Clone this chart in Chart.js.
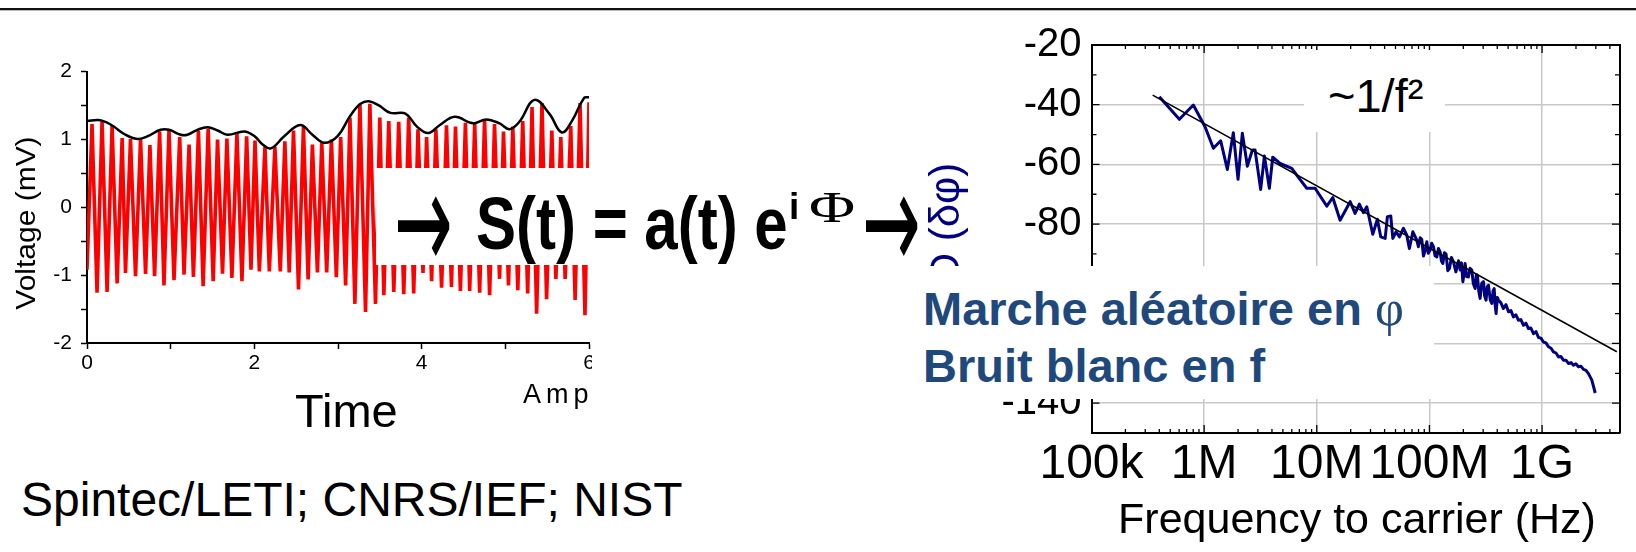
<!DOCTYPE html>
<html>
<head>
<meta charset="utf-8">
<script src="https://cdn.jsdelivr.net/npm/chart.js@4.4.0/dist/chart.umd.min.js"></script>
<style>
  body { margin: 0; background: #fff; }
  #page { position: relative; width: 1636px; height: 552px; overflow: hidden; background: #fff;
          font-family: "Liberation Sans", Arial, sans-serif; color: #000; }
  .abs { position: absolute; white-space: nowrap; }
  #topRule { left: 0; top: 8px; width: 1636px; height: 2px; background: #111; border-bottom: 1px solid #bbb; }
  #leftWrap { left: 0; top: 0; width: 592px; height: 552px; overflow: hidden; }
  #timeChart { position: absolute; left: 0; top: 50px; }
  #vLabel { left: -74px; top: 207px; width: 200px; height: 32px; line-height: 32px; font-size: 27px;
            text-align: center; transform: rotate(-90deg) scaleX(1.11); }
  #ampLabel { left: 523px; top: 381px; font-size: 27px; line-height: 27px; letter-spacing: 5px; }
  #timeLabel { left: 295px; top: 387px; font-size: 47px; line-height: 47px; }
  #formulaBox { left: 376px; top: 168px; width: 216px; height: 97px; background: #fff; }
  .f { position: absolute; white-space: nowrap; font-weight: bold; font-size: 60px; line-height: 60px;
       top: 199px; transform-origin: 0 51px; transform: scaleY(1.25); }
  .arr { position: absolute; font-family: "DejaVu Sans", sans-serif; font-weight: normal; font-size: 70px;
         line-height: 70px; top: 211px; transform-origin: 0 59px; transform: scaleY(2.0); }
  .sup { position: absolute; white-space: nowrap; line-height: 40px; top: 187px; }
  #psdChart { position: absolute; left: 900px; top: 0; }
  #psdLabel { left: 835px; top: 229px; width: 220px; height: 44px; line-height: 44px; font-size: 42px;
              color: #000080; text-align: center; transform: rotate(-90deg); }
  #slopeBox { left: 1304px; top: 50px; width: 141px; height: 82px; background: #fff; }
  #slopeText { left: 1328px; top: 72px; font-size: 47px; line-height: 47px; }
  #noteBox { left: 880px; top: 266px; width: 554px; height: 133px; background: #fff; }
  #noteText { left: 923px; top: 280px; font-size: 47px; line-height: 57px; font-weight: bold; color: #1f497d; }
  #noteText .phi { font-family: "Liberation Serif", serif; font-weight: normal; font-size: 50px; }
  #freqLabel { left: 1057px; top: 497px; width: 600px; text-align: center; font-size: 43px; line-height: 43px; }
  #credits { left: 21px; top: 476px; font-size: 48px; line-height: 48px; }
</style>
</head>
<body>
<div id="page">
  <div id="topRule" class="abs"></div>
  <div id="leftWrap" class="abs">
    <canvas id="timeChart" width="620" height="330"></canvas>
    <div id="vLabel" class="abs">Voltage (mV)</div>
    <div id="ampLabel" class="abs">Amp</div>
  </div>
  <div id="timeLabel" class="abs">Time</div>

  <div id="formulaBox" class="abs"></div>
  <div class="arr" style="left:394px">→</div>
  <div class="f" style="left:476px">S(t) = a(t) e</div>
  <div class="sup" style="left:789px; font-weight:bold; font-size:37px;">i</div>
  <div class="sup" style="left:809px; font-family:'Liberation Serif', serif; font-size:45px; transform-origin:0 0; transform:scaleX(1.4);">Φ</div>
  <div class="arr" style="left:862px">→</div>

  <canvas id="psdChart" width="736" height="500"></canvas>
  <div id="psdLabel" class="abs">PSD (δφ)</div>
  <div id="slopeBox" class="abs"></div>
  <div id="slopeText" class="abs">~1/f²</div>
  <div id="noteBox" class="abs"></div>
  <div id="noteText" class="abs">Marche aléatoire en <span class="phi">φ</span><br>Bruit blanc en f</div>
  <div id="freqLabel" class="abs">Frequency to carrier (Hz)</div>
  <div id="credits" class="abs">Spintec/LETI; CNRS/IEF; NIST</div>
</div>

<script>
// time trace: turning points of the oscillation (time, mV)
const sigT = [0, 0.06, 0.12, 0.18, 0.24, 0.30, 0.36, 0.42, 0.46, 0.52,
  0.58, 0.64, 0.70, 0.752, 0.808, 0.868, 0.92, 0.98, 1.04, 1.108,
  1.16, 1.22, 1.272, 1.332, 1.388, 1.448, 1.508, 1.56, 1.62, 1.672,
  1.732, 1.792, 1.852, 1.908, 1.96, 2.008, 2.06, 2.127, 2.179, 2.246,
  2.31, 2.365, 2.417, 2.468, 2.528, 2.587, 2.643, 2.694, 2.754, 2.806,
  2.865, 2.921, 2.98, 3.032, 3.091, 3.143, 3.202, 3.262, 3.329, 3.381,
  3.448, 3.5, 3.548, 3.607, 3.667, 3.726, 3.786, 3.845, 3.905, 3.956,
  4.016, 4.059, 4.119, 4.17, 4.238, 4.297, 4.356, 4.404, 4.463, 4.523,
  4.574, 4.634, 4.693, 4.752, 4.812, 4.871, 4.931, 4.978, 5.038, 5.089,
  5.149, 5.208, 5.267, 5.319, 5.374, 5.438, 5.493, 5.556, 5.604, 5.663,
  5.715, 5.782, 5.834, 5.893, 5.952, 6.0];
const sigV = [-0.92, 1.228, -1.257, 1.271, -1.247, 1.204, -1.122, 1.022, -0.969, 1.007,
  -1.017, 1.007, -0.983, 0.916, -1.017, 1.118, -1.151, 1.132, -1.074, 1.036,
  -0.993, 0.926, -1.026, 1.127, -1.161, 1.156, -1.089, 0.998, -0.978, 1.012,
  -1.041, 1.094, -1.089, 1.046, -0.921, 0.983, -0.945, 0.892, -0.945, 0.892,
  -0.945, 0.974, -0.959, 1.132, -1.209, 1.189, -1.065, 0.926, -0.959, 0.95,
  -0.959, 0.998, -1.031, 1.036, -1.151, 1.324, -1.424, 1.525, -1.544, 1.525,
  -1.424, 1.324, -1.295, 1.271, -1.247, 1.261, -1.281, 1.324, -1.271, 1.151,
  -0.969, 1.036, -1.089, 1.151, -1.185, 1.209, -1.175, 1.189, -1.233, 1.247,
  -1.233, 1.228, -1.257, 1.295, -1.295, 1.228, -1.055, 1.118, -1.151, 1.189,
  -1.223, 1.271, -1.271, 1.477, -1.568, 1.535, -1.353, 1.132, -1.055, 1.036,
  -1.055, 1.199, -1.367, 1.535, -1.592, 1.549];

// amplitude envelope a(t)
const envT = [0, 0.14, 0.24, 0.32, 0.44, 0.6, 0.72, 0.88, 0.98, 1.12,
  1.2, 1.32, 1.44, 1.56, 1.68, 1.88, 2.0, 2.099, 2.198, 2.357,
  2.548, 2.694, 2.833, 2.992, 3.151, 3.27, 3.369, 3.488, 3.627, 3.806,
  3.944, 4.079, 4.218, 4.396, 4.614, 4.772, 4.931, 5.05, 5.168, 5.347,
  5.525, 5.675, 5.802, 5.941, 6.0];
const envV = [1.271, 1.285, 1.247, 1.19, 1.084, 1.007, 1.046, 1.142, 1.142, 1.07,
  1.07, 1.142, 1.18, 1.132, 1.07, 1.118, 1.05, 0.926, 0.868, 1.046,
  1.213, 1.07, 0.95, 1.046, 1.357, 1.525, 1.564, 1.501, 1.391, 1.381,
  1.189, 1.094, 1.213, 1.333, 1.237, 1.295, 1.237, 1.151, 1.261, 1.583,
  1.381, 1.103, 1.285, 1.612, 1.621];

// phase noise spectrum: log10(frequency / Hz) and dB
const psdLogF = [5.602, 5.78, 5.904, 6.008, 6.082, 6.147, 6.206, 6.259, 6.301, 6.339,
  6.384, 6.428, 6.452, 6.502, 6.535, 6.579, 6.609, 6.674, 6.778, 6.822,
  6.911, 6.985, 7.089, 7.142, 7.207, 7.296, 7.34, 7.378, 7.414, 7.444,
  7.497, 7.538, 7.568, 7.607, 7.627, 7.657, 7.675, 7.704, 7.734, 7.769,
  7.799, 7.822, 7.853, 7.888, 7.902, 7.918, 7.932, 7.947, 7.962, 7.977,
  7.99, 8.006, 8.02, 8.036, 8.05, 8.066, 8.08, 8.095, 8.107, 8.119,
  8.133, 8.148, 8.163, 8.178, 8.195, 8.213, 8.235, 8.258, 8.273, 8.285,
  8.297, 8.307, 8.317, 8.33, 8.346, 8.36, 8.376, 8.39, 8.406, 8.416,
  8.426, 8.438, 8.45, 8.465, 8.48, 8.49, 8.503, 8.513, 8.524, 8.54,
  8.554, 8.565, 8.575, 8.583, 8.592, 8.603, 8.613, 8.635, 8.657, 8.68,
  8.702, 8.724, 8.746, 8.768, 8.79, 8.812, 8.835, 8.857, 8.879, 8.9,
  8.924, 8.946, 8.968, 8.99, 9.012, 9.035, 9.057, 9.08, 9.101, 9.124,
  9.146, 9.168, 9.19, 9.212, 9.234, 9.257, 9.279, 9.3, 9.323, 9.345,
  9.368, 9.39, 9.412, 9.442, 9.472];
const psdDb = [-37.3, -44.9, -40.1, -47.4, -54.6, -52.1, -61.7, -49.4, -65.0, -49.6,
  -60.6, -55.2, -55.2, -68.4, -57.2, -68.0, -57.6, -59.7, -61.3, -63.6,
  -68.0, -68.0, -74.0, -71.1, -78.7, -72.5, -76.4, -73.3, -76.2, -74.2,
  -83.4, -78.4, -84.3, -84.8, -77.5, -77.3, -84.8, -82.6, -84.3, -81.4,
  -83.7, -88.2, -82.6, -85.4, -87.6, -84.6, -85.1, -90.7, -88.9, -85.9,
  -89.8, -88.7, -86.4, -87.6, -90.6, -91.0, -88.2, -89.3, -92.4, -93.2,
  -89.6, -90.1, -95.6, -94.9, -91.2, -92.6, -96.0, -92.3, -95.4, -93.0,
  -99.3, -96.6, -93.2, -97.6, -97.7, -94.8, -95.4, -100.0, -101.6, -97.0,
  -97.1, -102.4, -104.9, -99.8, -99.3, -104.0, -105.5, -101.0, -100.5, -105.4,
  -106.6, -102.4, -101.6, -107.0, -110.0, -104.6, -105.5, -106.4, -108.3, -107.0,
  -109.4, -109.0, -111.1, -110.4, -112.2, -112.0, -113.9, -113.2, -115.0, -114.8,
  -116.7, -116.0, -118.0, -118.2, -119.5, -119.8, -121.1, -121.6, -122.8, -123.2,
  -124.5, -124.4, -125.6, -125.6, -126.7, -126.4, -127.3, -126.8, -127.8, -127.6,
  -128.7, -129.0, -130.1, -132.3, -136.6];

// ~1/f^2 guide line
const fitLogF = [5.543, 9.664];
const fitDb = [-36.8, -122.8];

const freqTicks = [1e5, 1e6, 1e7, 1e8, 1e9];
const freqTickLabels = ['100k', '1M', '10M', '100M', '1G'];
const dbTicks = [-140, -120, -100, -80, -60, -40, -20];

Chart.defaults.font.family = '"Liberation Sans", Arial, sans-serif';
Chart.defaults.color = '#000';

// closes the frame and draws the inward ticks of the spectrum plot
const frameTicks = {
  id: 'frameTicks',
  afterDraw(chart) {
    const { ctx, chartArea: a, scales: { x, y } } = chart;
    ctx.save();
    ctx.strokeStyle = '#000';
    ctx.lineWidth = 2;
    ctx.beginPath();
    ctx.moveTo(a.left, a.top);
    ctx.lineTo(a.right, a.top);
    ctx.lineTo(a.right, a.bottom);
    ctx.stroke();
    ctx.lineWidth = 1.3;
    ctx.beginPath();
    for (const d of freqTicks) {
      for (let m = 1; m <= 9; m++) {
        const v = d * m;
        if (v <= x.min || v >= x.max) continue;
        const px = x.getPixelForValue(v);
        const len = m === 1 ? 8 : 4;
        ctx.moveTo(px, a.bottom); ctx.lineTo(px, a.bottom - len);
        ctx.moveTo(px, a.top); ctx.lineTo(px, a.top + len);
      }
    }
    for (let v = -140; v < -20; v += 10) {
      const py = y.getPixelForValue(v);
      const len = v % 20 === 0 ? 8 : 5;
      ctx.moveTo(a.left, py); ctx.lineTo(a.left + len, py);
      ctx.moveTo(a.right, py); ctx.lineTo(a.right - len, py);
    }
    ctx.stroke();
    ctx.restore();
  }
};

new Chart(document.getElementById('timeChart'), {
  type: 'line',
  data: {
    datasets: [
      {
        label: 'a(t)',
        data: envT.map((t, i) => ({ x: t, y: envV[i] })),
        borderColor: '#000',
        borderWidth: 2.5,
        pointRadius: 0,
        tension: 0.4
      },
      {
        label: 'Voltage',
        data: sigT.map((t, i) => ({ x: t, y: sigV[i] })),
        borderColor: '#ff0000',
        borderWidth: 3.6,
        pointRadius: 0,
        tension: 0
      }
    ]
  },
  options: {
    responsive: false,
    animation: false,
    devicePixelRatio: 1,
    layout: { padding: { top: 15, right: 31, left: 0, bottom: 0 } },
    plugins: { legend: { display: false }, tooltip: { enabled: false } },
    scales: {
      x: {
        type: 'linear',
        min: 0,
        max: 6,
        afterFit: (s) => { s.height = 37; },
        ticks: {
          stepSize: 1, autoSkip: false, maxRotation: 0, padding: 2,
          font: { size: 21 },
          callback: (v) => (v % 2 === 0 ? v : '')
        },
        grid: { drawOnChartArea: false, tickLength: 6, color: '#000', tickWidth: 1.5 },
        border: { color: '#000', width: 2 }
      },
      y: {
        min: -2,
        max: 2,
        afterFit: (s) => { s.width = 87; },
        ticks: {
          stepSize: 0.5, autoSkip: false, padding: 9,
          font: { size: 21 },
          callback: (v) => (Number.isInteger(v) ? v : '')
        },
        grid: { drawOnChartArea: false, tickLength: 6, color: '#000', tickWidth: 1.5 },
        border: { color: '#000', width: 2 }
      }
    }
  }
});

new Chart(document.getElementById('psdChart'), {
  type: 'line',
  data: {
    datasets: [
      {
        label: 'fit',
        data: fitLogF.map((e, i) => ({ x: 10 ** e, y: fitDb[i] })),
        borderColor: '#000',
        borderWidth: 1.6,
        pointRadius: 0
      },
      {
        label: 'PSD',
        data: psdLogF.map((e, i) => ({ x: 10 ** e, y: psdDb[i] })),
        borderColor: '#000080',
        borderWidth: 3,
        borderJoinStyle: 'round',
        pointRadius: 0,
        tension: 0
      }
    ]
  },
  options: {
    responsive: false,
    animation: false,
    devicePixelRatio: 1,
    layout: { padding: { top: 45, right: 16, left: 0, bottom: 0 } },
    plugins: { legend: { display: false }, tooltip: { enabled: false } },
    scales: {
      x: {
        type: 'logarithmic',
        min: 1e5,
        max: 4.92e9,
        afterFit: (s) => { s.height = 67; },
        afterBuildTicks: (s) => { s.ticks = freqTicks.map((v) => ({ value: v })); },
        ticks: {
          autoSkip: false, maxRotation: 0, padding: 3,
          font: { size: 48 },
          callback: (v, i) => freqTickLabels[i]
        },
        grid: {
          drawTicks: false,
          lineWidth: 1.5,
          color: (c) => (c.tick && c.tick.value === 1e5 ? 'rgba(0,0,0,0)' : '#c8c8c8')
        },
        border: { color: '#000', width: 2 }
      },
      y: {
        min: -150,
        max: -20,
        afterFit: (s) => { s.width = 191.5; },
        afterBuildTicks: (s) => { s.ticks = dbTicks.map((v) => ({ value: v })); },
        ticks: { autoSkip: false, padding: 10, font: { size: 40 } },
        grid: {
          drawTicks: false,
          lineWidth: 1.5,
          color: (c) => (c.tick && c.tick.value === -20 ? 'rgba(0,0,0,0)' : '#c8c8c8')
        },
        border: { color: '#000', width: 2 }
      }
    }
  },
  plugins: [frameTicks]
});
</script>
</body>
</html>
